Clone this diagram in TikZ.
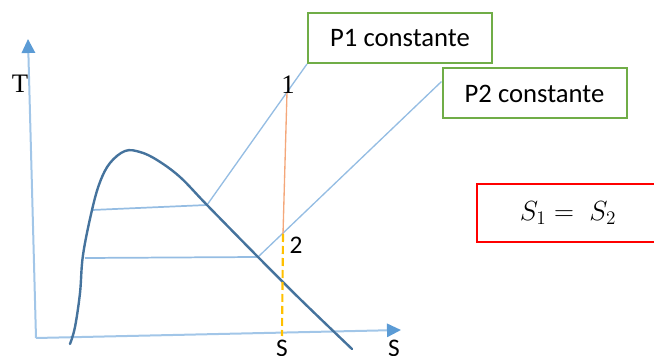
\documentclass[tikz,border=0pt]{standalone}
\usepackage{amsmath}
\usepackage{fontspec}
\setmainfont{Carlito}
\newfontfamily\timesfont{Liberation Serif}
\usetikzlibrary{arrows.meta, positioning, calc}

\definecolor{axisblue}{HTML}{A2C6E8}
\definecolor{arrowblue}{HTML}{5B9BD5}
\definecolor{leadblue}{HTML}{95BDE3}
\definecolor{curveblue}{HTML}{45739D}
\definecolor{isoorange}{HTML}{F4A77A}
\definecolor{isoyellow}{HTML}{FFC000}
\definecolor{boxgreen}{HTML}{70AD47}
\definecolor{boxred}{HTML}{FF0000}

\begin{document}
\begin{tikzpicture}[
    x=0.75pt, y=-0.75pt,
    axis/.style={draw=axisblue, line width=1.5pt, -{Triangle[length=10.5pt, width=10pt, color=arrowblue]}},
    dome/.style={draw=curveblue, line width=1.8pt, line cap=round},
    lead/.style={draw=leadblue, line width=1pt},
    tie/.style={draw=leadblue, line width=1.3pt},
    pbox/.style={draw=boxgreen, line width=1.5pt, fill=white, minimum width=138pt, minimum height=37.5pt, font=\fontsize{20}{24}\selectfont},
    eqbox/.style={draw=boxred, line width=2.2pt, line join=miter},
    lbl/.style={inner sep=0pt, font=\fontsize{19}{22}\selectfont},
    slbl/.style={inner sep=0pt, font=\timesfont\fontsize{20}{24}\selectfont}
]
\useasboundingbox (0,0) rectangle (654,356);
\clip (0,0) rectangle (654,356);
% axes of the T-s diagram
\coordinate (O)    at (36,338);
\coordinate (ytip) at (28,39);
\coordinate (xtip) at (401,330);
\draw[axis] (O) -- (ytip);
\draw[axis] (O) -- (xtip);
% saturation dome and the two isobars
\coordinate (a1) at (207,205);
\coordinate (a2) at (258,257);
\coordinate (b1) at (92,210);
\coordinate (b2) at (85,258);
% boxes naming the pressures
\node[pbox] (P1) at (400,38) {P1 constante};
\node[pbox] (P2) at (534.5,93.5) {P2 constante};
% the equality box runs past the right edge
\draw[eqbox] (690,184) -- (477,184) -- (477,242) -- (690,242);
\node[font=\fontsize{20}{24}\selectfont] (EQ) at (568,213) {$S_1 =\; S_2$};
\draw[lead] (a1) -- (P1.south west);
\draw[lead] (a2) -- ($(P2.north west)!0.27!(P2.south west)$);
\draw[tie] (b1) -- (a1);
\draw[tie] (b2) -- (a2);
\draw[dome] plot[smooth, tension=0.6] coordinates {(70,344) (75,327) (80,293) (83,255) (92,210) (100,182) (110,163) (125,151) (140,152) (157,160) (180,177) (207,205) (258,257) (300,299) (352,349)};
% isentropic expansion 1 -> 2
\coordinate (s1) at (287,92);
\coordinate (s2) at (283,234);
\coordinate (s0) at (282,336);
\draw[isoorange, line width=1pt] (s1) -- (s2);
\draw[isoyellow, line width=1.6pt, dash pattern=on 6pt off 3pt] (s2) -- (s0);
% labels
\node[slbl] (Tlbl) at (20,84) {T};
\node[slbl] (n1) at (288,85) {1};
\node[lbl] (n2) at (296,245) {2};
\node[lbl] (sval) at (282,348) {S};
\node[lbl] (slbl) at (394,348) {S};
\end{tikzpicture}
\end{document}
